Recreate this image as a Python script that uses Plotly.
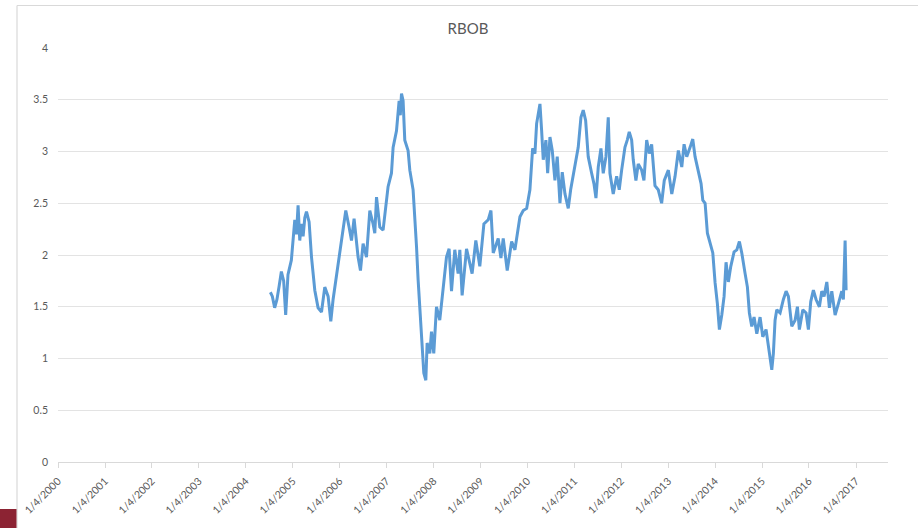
import pandas as pd
import plotly.graph_objects as go

# RBOB price ($/gal), x given as fractional years counted from Jan 4
year_pos = [
    2004.525, 2004.567, 2004.616, 2004.665, 2004.712, 2004.759, 2004.808, 2004.851, 2004.900, 2004.972,
    2005.043, 2005.079, 2005.113, 2005.149, 2005.181, 2005.220, 2005.256, 2005.292, 2005.348, 2005.399,
    2005.469, 2005.539, 2005.612, 2005.682, 2005.753, 2005.810, 2005.859, 2005.906, 2005.966,
    2006.038, 2006.130, 2006.200, 2006.252, 2006.307, 2006.392, 2006.443, 2006.499, 2006.571, 2006.642,
    2006.712, 2006.748, 2006.785, 2006.855, 2006.925, 2006.998,
    2007.032, 2007.104, 2007.139, 2007.211, 2007.267, 2007.292, 2007.318, 2007.352, 2007.388, 2007.458,
    2007.495, 2007.565, 2007.601, 2007.638, 2007.672, 2007.708, 2007.744, 2007.793, 2007.836, 2007.864,
    2007.921, 2007.957,
    2008.006, 2008.064, 2008.134, 2008.205, 2008.277, 2008.333, 2008.384, 2008.454, 2008.525, 2008.561,
    2008.610, 2008.704, 2008.774, 2008.823, 2008.902, 2008.987,
    2009.072, 2009.164, 2009.222, 2009.271, 2009.377, 2009.435, 2009.484, 2009.569, 2009.663, 2009.733,
    2009.840, 2009.910, 2009.983,
    2010.053, 2010.111, 2010.160, 2010.196, 2010.267, 2010.303, 2010.337, 2010.394, 2010.431, 2010.480,
    2010.529, 2010.586, 2010.635, 2010.693, 2010.742, 2010.800, 2010.870, 2010.921,
    2011.013, 2011.083, 2011.141, 2011.190, 2011.241, 2011.296, 2011.369, 2011.418, 2011.461, 2011.510,
    2011.567, 2011.616, 2011.674, 2011.723, 2011.759, 2011.829, 2011.902, 2011.957,
    2012.009, 2012.079, 2012.128, 2012.171, 2012.222, 2012.256, 2012.313, 2012.362, 2012.435, 2012.484,
    2012.542, 2012.597, 2012.648, 2012.719, 2012.789, 2012.861, 2012.917,
    2013.002, 2013.075, 2013.145, 2013.215, 2013.288, 2013.337, 2013.394, 2013.465, 2013.522, 2013.571,
    2013.642, 2013.699, 2013.736, 2013.785, 2013.834, 2013.891, 2013.949, 2013.998,
    2014.047, 2014.090, 2014.141, 2014.190, 2014.232, 2014.281, 2014.333, 2014.403, 2014.461, 2014.516,
    2014.567, 2014.638, 2014.687, 2014.729, 2014.780, 2014.829, 2014.887, 2014.957,
    2015.015, 2015.085, 2015.156, 2015.207, 2015.241, 2015.277, 2015.313, 2015.384, 2015.454, 2015.512,
    2015.561, 2015.633, 2015.704, 2015.753, 2015.795, 2015.868, 2015.938, 2015.987,
    2016.038, 2016.094, 2016.151, 2016.222, 2016.273, 2016.322, 2016.380, 2016.435, 2016.486, 2016.557,
    2016.627, 2016.699, 2016.733, 2016.770, 2016.791,
]
price = [
    1.64, 1.60, 1.49, 1.57, 1.70, 1.84, 1.75, 1.42, 1.81, 1.95,
    2.34, 2.20, 2.48, 2.14, 2.30, 2.18, 2.36, 2.42, 2.32, 1.98,
    1.66, 1.49, 1.45, 1.69, 1.60, 1.36, 1.57, 1.72, 1.89,
    2.14, 2.43, 2.27, 2.14, 2.35, 1.98, 1.85, 2.11, 1.98, 2.43,
    2.30, 2.21, 2.56, 2.27, 2.24, 2.56,
    2.66, 2.79, 3.04, 3.20, 3.49, 3.35, 3.56, 3.49, 3.11, 3.01,
    2.82, 2.63, 2.40, 2.08, 1.76, 1.47, 1.24, 0.86, 0.79, 1.15,
    1.05, 1.26,
    1.05, 1.50, 1.37, 1.69, 1.98, 2.06, 1.65, 2.05, 1.82, 2.05,
    1.61, 2.06, 1.92, 1.82, 2.14, 1.89,
    2.30, 2.34, 2.43, 2.02, 2.16, 1.97, 2.16, 1.85, 2.13, 2.05,
    2.37, 2.43, 2.45,
    2.63, 3.03, 2.98, 3.27, 3.46, 3.20, 2.92, 3.11, 2.79, 3.14,
    3.01, 2.72, 2.95, 2.50, 2.80, 2.59, 2.45, 2.63,
    2.85, 3.04, 3.33, 3.40, 3.30, 2.95, 2.79, 2.69, 2.55, 2.85,
    3.03, 2.79, 2.95, 3.33, 2.79, 2.59, 2.76, 2.63,
    2.82, 3.04, 3.11, 3.19, 3.11, 2.92, 2.72, 2.88, 2.82, 2.72,
    3.11, 2.98, 3.07, 2.67, 2.63, 2.50, 2.72,
    2.82, 2.59, 2.76, 3.01, 2.85, 3.07, 2.95, 3.04, 3.12, 2.95,
    2.79, 2.69, 2.53, 2.50, 2.21, 2.11, 2.02, 1.73,
    1.53, 1.28, 1.42, 1.60, 1.93, 1.74, 1.89, 2.03, 2.05, 2.13,
    2.02, 1.82, 1.69, 1.44, 1.31, 1.40, 1.24, 1.40,
    1.21, 1.28, 1.02, 0.89, 1.05, 1.37, 1.47, 1.44, 1.57, 1.65,
    1.60, 1.31, 1.37, 1.50, 1.28, 1.47, 1.44, 1.28,
    1.55, 1.66, 1.57, 1.50, 1.65, 1.60, 1.74, 1.49, 1.65, 1.42,
    1.53, 1.65, 1.57, 2.14, 1.66,
]
tick_years = list(range(2000, 2018))
y_ticks = [0, 0.5, 1, 1.5, 2, 2.5, 3, 3.5, 4]

dates = [pd.Timestamp(int(y), 1, 4) + pd.Timedelta(days=(y - int(y)) * 365.25) for y in year_pos]
tick_dates = [pd.Timestamp(y, 1, 4) for y in tick_years]
tick_text = [f"1/4/{y}" for y in tick_years]

fig = go.Figure()
fig.add_trace(go.Scatter(
    x=dates,
    y=price,
    mode="lines",
    line=dict(color="#5B9BD5", width=3),
    showlegend=False,
))

# plot area: x 58..888 px, y 48..462 px
W, H = 918, 528
L, R, T, B = 58, 30, 48, 66
pw, ph = W - L - R, H - T - B

def px_x(p):
    return (p - L) / pw

def px_y(p):
    return 1 - (p - T) / ph

fig.update_layout(
    width=W, height=H,
    margin=dict(l=L, r=R, t=T, b=B),
    paper_bgcolor="white",
    plot_bgcolor="white",
    font=dict(family="Lato, Open Sans, sans-serif", color="#595959"),
    title=dict(text="RBOB", x=468 / W, xanchor="center",
               y=1 - 29 / H, yanchor="middle", font=dict(size=15, color="#595959")),
    xaxis=dict(
        range=[pd.Timestamp(2000, 1, 4), pd.Timestamp(2017, 9, 10)],
        tickvals=tick_dates, ticktext=tick_text, tickangle=-45,
        tickfont=dict(size=10.5, color="#595959"),
        showgrid=False, showline=True, linecolor="#D9D9D9", linewidth=1,
        ticks="outside", ticklen=5, tickcolor="#D9D9D9",
        zeroline=False, ticklabelstandoff=3,
    ),
    yaxis=dict(
        range=[0, 4], tickvals=y_ticks, ticktext=[f"{v:g}" for v in y_ticks],
        tickfont=dict(size=10.5, color="#595959"),
        showgrid=True, gridcolor="#E3E3E3", gridwidth=1,
        zeroline=False, showline=False, ticks="", ticklabelstandoff=9,
    ),
    shapes=[
        # chart frame (cut off at the right and bottom of the picture)
        dict(type="line", xref="paper", yref="paper", x0=px_x(17), x1=px_x(930),
             y0=px_y(5.5), y1=px_y(5.5), line=dict(color="#D9D9D9", width=1.2)),
        dict(type="line", xref="paper", yref="paper", x0=px_x(17), x1=px_x(17),
             y0=px_y(5.5), y1=px_y(540), line=dict(color="#D9D9D9", width=1.2)),
        # slide accent in bottom-left corner
        dict(type="rect", xref="paper", yref="paper", x0=px_x(0), x1=px_x(16.5),
             y0=px_y(509), y1=px_y(530), fillcolor="#8C2333", line=dict(width=0)),
    ],
)

# drop the browser's default page margin so the figure sits at the window corner
fig.write_html("out.html", config={"displayModeBar": False},
               post_script="document.body.style.margin='0';")
